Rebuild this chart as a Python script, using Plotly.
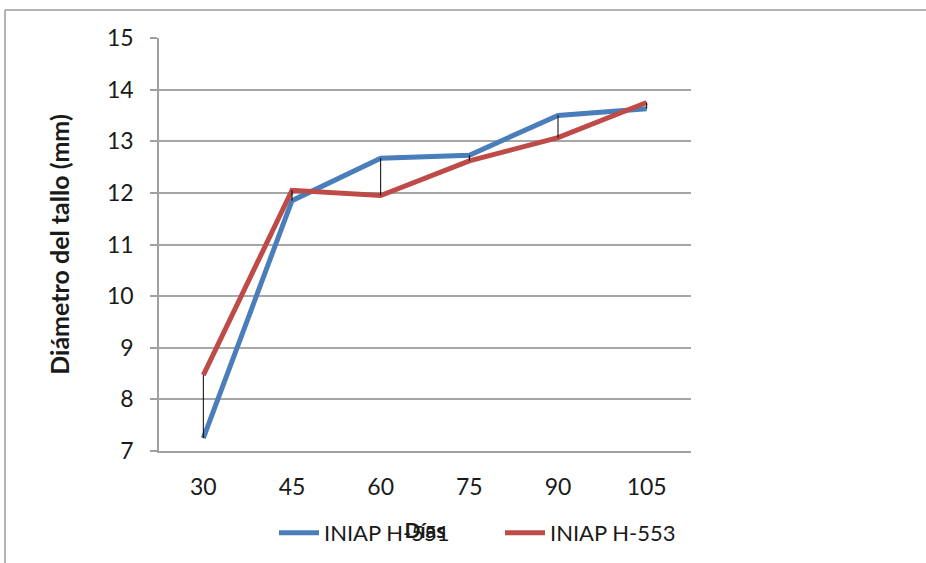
import plotly.graph_objects as go

dias = ["30", "45", "60", "75", "90", "105"]
h551 = [7.25, 11.85, 12.67, 12.73, 13.50, 13.63]
h553 = [8.47, 12.05, 11.95, 12.62, 13.07, 13.75]
y_ticks = [7, 8, 9, 10, 11, 12, 13, 14, 15]

BLUE = "#4a7ebb"
RED = "#be4b48"
FONT = "Lato, 'Open Sans', sans-serif"

# high-low connectors between the two series at each day
hl_x, hl_y = [], []
for d, a, b in zip(dias, h551, h553):
    hl_x += [d, d, None]
    hl_y += [a, b, None]

fig = go.Figure()
fig.add_trace(go.Scatter(x=dias, y=h551, mode="lines", name="INIAP H-551",
                         line=dict(color=BLUE, width=5)))
fig.add_trace(go.Scatter(x=dias, y=h553, mode="lines", name="INIAP H-553",
                         line=dict(color=RED, width=5)))
fig.add_trace(go.Scatter(x=hl_x, y=hl_y, mode="lines", showlegend=False,
                         line=dict(color="black", width=1), hoverinfo="skip"))

L, R, T, B = 159, 235, 38, 112
W, H = 926, 563
pw, ph = W - L - R, H - T - B

fig.update_layout(
    width=W, height=H,
    margin=dict(l=L, r=R, t=T, b=B, autoexpand=False),
    paper_bgcolor="white", plot_bgcolor="white",
    font=dict(family=FONT, size=23, color="#1a1a1a"),
    legend=dict(orientation="h", x=(274 - L) / pw, xanchor="left",
                y=(H - B - 533) / ph, yanchor="middle",
                font=dict(size=22), itemwidth=40, traceorder="normal",
                entrywidth=171, entrywidthmode="pixels",
                bgcolor="rgba(0,0,0,0)"),
    xaxis=dict(type="category", categoryorder="array", categoryarray=dias,
               range=[-0.5, 5.5], showgrid=False, showline=True,
               linecolor="#a0a0a0", linewidth=1.5, ticks="",
               ticklabelstandoff=15, tickfont=dict(size=23),
               title=dict(text="<b>Días</b>", font=dict(size=21), standoff=24)),
    yaxis=dict(range=[7, 15], tickvals=y_ticks, showgrid=True,
               gridcolor="#a6a6a6", gridwidth=1.5, showline=True,
               linecolor="#a0a0a0", linewidth=1.5, ticks="outside",
               ticklen=7, tickcolor="#a0a0a0", tickwidth=1.5,
               ticklabelstandoff=12, tickfont=dict(size=23), zeroline=False,
               title=dict(text="<b>Diámetro del tallo (mm)</b>",
                          font=dict(size=25), standoff=30)),
    showlegend=True,
)

# chart-area frame (top and left edges)
fx = (5 - L) / pw
fy = (H - B - 10) / ph
fig.add_shape(type="line", xref="paper", yref="paper", x0=fx, x1=(W - L) / pw + 0.01,
              y0=fy, y1=fy, line=dict(color="#9a9a9a", width=1.5))
fig.add_shape(type="line", xref="paper", yref="paper", x0=fx, x1=fx,
              y0=fy, y1=-(B + 5) / ph, line=dict(color="#9a9a9a", width=1.5))

fig.write_html("out.html")
